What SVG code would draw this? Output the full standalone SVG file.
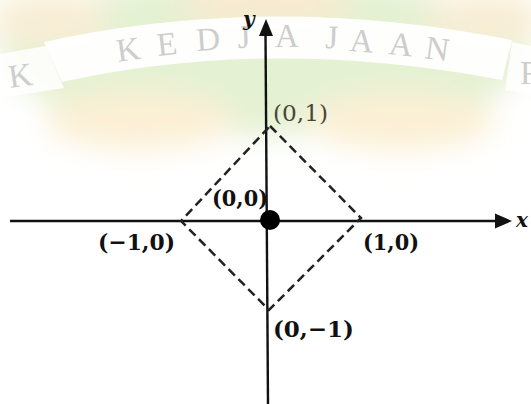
<svg xmlns="http://www.w3.org/2000/svg" width="531" height="404" viewBox="0 0 531 404">
  <defs>
    <filter id="blur" x="-50%" y="-50%" width="200%" height="200%">
      <feGaussianBlur stdDeviation="14"/>
    </filter>
    <style>
      .axis { stroke: #111; stroke-width: 2.4; fill: none; }
      .dash { stroke: #222; stroke-width: 2.5; fill: none; stroke-dasharray: 9 5; }
      .lbl { font-family: "DejaVu Serif", "Liberation Serif", serif; font-size: 23px; font-weight: bold; fill: #111; }
      .var { font-family: "DejaVu Serif", "Liberation Serif", serif; font-size: 20px; font-weight: bold; font-style: italic; fill: #111; }
      .wm { font-family: "Liberation Serif", "DejaVu Serif", serif; font-size: 33px; fill: #cdcdcd; }
    </style>
  </defs>
  <rect width="531" height="404" fill="#ffffff"/>
  <!-- watermark -->
  <g id="watermark">
    <g filter="url(#blur)">
      <ellipse cx="265" cy="55" rx="265" ry="80" fill="#e4f1d3"/>
      <ellipse cx="140" cy="120" rx="95" ry="30" fill="#fbf0d6"/>
      <ellipse cx="400" cy="120" rx="95" ry="30" fill="#fbf0d6"/>
      <ellipse cx="265" cy="5" rx="90" ry="22" fill="#f8ead0"/>
      <ellipse cx="50" cy="20" rx="60" ry="28" fill="#f8eed6"/>
      <ellipse cx="485" cy="20" rx="60" ry="28" fill="#f8eed6"/>
    </g>
    <path d="M 44 42 Q 270 -8 512 40 L 502 80 Q 270 36 62 82 Z" fill="#ffffff" opacity="0.95"/>
    <path d="M 0 54 L 46 46 L 64 88 L 0 98 Z" fill="#ffffff" opacity="0.85"/>
    <path d="M 512 42 L 531 46 L 531 94 L 505 90 Z" fill="#ffffff" opacity="0.85"/>
    <text class="wm" x="118" y="62" transform="rotate(-8 118 62)">K</text>
    <text class="wm" x="158" y="56" transform="rotate(-6 158 56)">E</text>
    <text class="wm" x="197" y="51" transform="rotate(-4 197 51)">D</text>
    <text class="wm" x="238" y="48" transform="rotate(-2 238 48)">J</text>
    <text class="wm" x="275" y="47" transform="rotate(0 275 47)">A</text>
    <text class="wm" x="325" y="48" transform="rotate(2 325 48)">J</text>
    <text class="wm" x="349" y="51" transform="rotate(4 349 51)">A</text>
    <text class="wm" x="388" y="54" transform="rotate(6 388 54)">A</text>
    <text class="wm" x="424" y="58" transform="rotate(8 424 58)">N</text>
    <text class="wm" x="10" y="88" transform="rotate(-8 10 88)">K</text>
    <text class="wm" x="520" y="84">R</text>
  </g>
  <g id="connectors">
    <line class="axis" x1="10" y1="221" x2="497" y2="221"/>
    <polygon points="512,221 495,213.5 495,228.5" fill="#111"/>
    <line class="axis" x1="265.5" y1="34" x2="268" y2="404"/>
    <polygon points="266,19 259,36 273,36" fill="#111"/>
    <path class="dash" d="M 270 126 L 361 218 L 269 310 L 181 221 Z"/>
  </g>
  <g id="origin">
    <circle cx="270" cy="220" r="10" fill="#000"/>
    <text class="lbl" x="212" y="206" textLength="56" lengthAdjust="spacingAndGlyphs">(0,0)</text>
  </g>
  <g id="p01">
    <text class="lbl" x="273" y="121" textLength="55" lengthAdjust="spacingAndGlyphs" style="font-weight:normal;fill:#4a4636">(0,1)</text>
  </g>
  <g id="pm10">
    <text class="lbl" x="98" y="250" textLength="77" lengthAdjust="spacingAndGlyphs">(−1,0)</text>
  </g>
  <g id="p10">
    <text class="lbl" x="363" y="250" textLength="56" lengthAdjust="spacingAndGlyphs">(1,0)</text>
  </g>
  <g id="p0m1">
    <text class="lbl" x="273" y="337" textLength="81" lengthAdjust="spacingAndGlyphs">(0,−1)</text>
  </g>
  <g id="labels">
    <text class="var" x="243" y="26">y</text>
    <text class="var" x="516" y="227">x</text>
  </g>
</svg>
